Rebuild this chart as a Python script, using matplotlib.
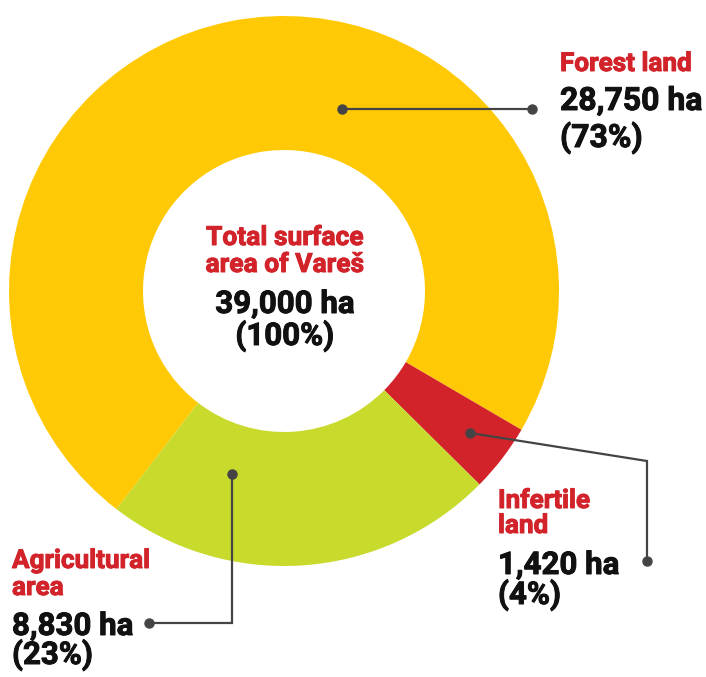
import matplotlib.pyplot as plt
import matplotlib
import matplotlib.patheffects as pe

matplotlib.rcParams['font.family'] = ['Roboto', 'DejaVu Sans']

# data
labels = ['Forest land', 'Infertile\nland', 'Agricultural\narea']
areas_ha = [28750, 1420, 8830]
shares_pct = [73, 4, 23]
total_label = 'Total surface\narea of Vareš'
total_ha = 39000
total_pct = 100

COLORS = ['#FFCA05', '#D2232A', '#C8DA2C']
RED = '#D2232A'
INK = '#111111'
LINE = '#444444'

W, H = 706, 677
fig = plt.figure(figsize=(W / 100, H / 100), dpi=100)
ax = fig.add_axes([0, 0, 1, 1])

# ring drawn from the rounded shares, as in the original graphic
cx, cy, R = 284, 291, 275
ax.pie(shares_pct, colors=COLORS, center=(cx, cy), radius=R,
       startangle=127.5, counterclock=True,
       wedgeprops=dict(width=R - 141, linewidth=0))
ax.set_xlim(0, W)
ax.set_ylim(H, 0)
ax.set_aspect('equal')
ax.axis('off')


def put(x, y, s, color, size, ha):
    # a thin stroke of the same colour makes Roboto Bold look heavier
    ax.text(x, y, s, color=color, fontsize=size, fontweight='bold', ha=ha, va='baseline',
            path_effects=[pe.withStroke(linewidth=0.7, foreground=color)])


def block(x, y_red, red_text, black_y, value, pct, ha='left', red_size=18.8, black_size=22.5, red_gap=26, black_gap=33):
    for i, line in enumerate(red_text.split('\n')):
        put(x, y_red + i * red_gap, line, RED, red_size, ha)
    put(x, black_y, f'{value:,} ha', INK, black_size, ha)
    put(x, black_y + black_gap, f'({pct}%)', INK, black_size, ha)


# center
block(285, 245, total_label, 313, total_ha, total_pct, ha='center', red_size=19, red_gap=27, black_gap=32)
# forest
block(560, 71, labels[0], 110, areas_ha[0], shares_pct[0], black_size=23, black_gap=37)
# infertile
block(498, 508, labels[1], 574, areas_ha[1], shares_pct[1], red_gap=25, black_gap=30)
# agricultural
block(12, 568, labels[2], 635, areas_ha[2], shares_pct[2], red_gap=27, black_gap=29)

# leader lines
leaders = [
    ([342, 532], [109, 109]),
    ([470, 647, 647], [433, 461, 561]),
    ([232, 232, 149], [474, 623, 623]),
]
for xs, ys in leaders:
    ax.plot(xs, ys, color=LINE, linewidth=1.6, solid_joinstyle='miter')
    ax.plot([xs[0], xs[-1]], [ys[0], ys[-1]], 'o', color=LINE, markersize=6.5)

fig.savefig('out.png', dpi=100, facecolor='white')
